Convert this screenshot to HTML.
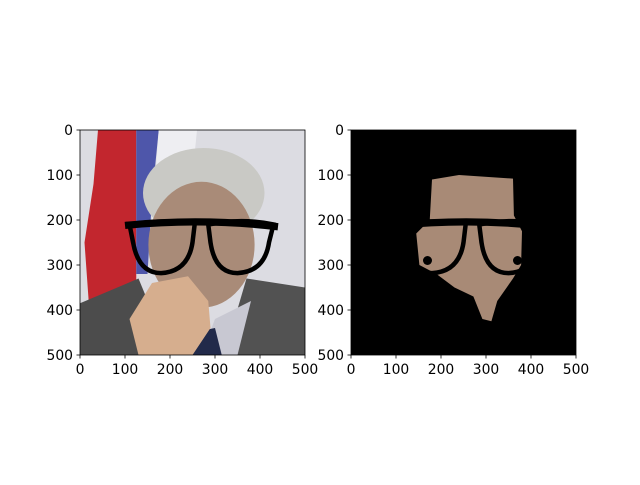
<!DOCTYPE html>
<html><head><meta charset="utf-8"><style>
body{margin:0;background:#fff}
svg text{font-family:"DejaVu Sans","Liberation Sans",sans-serif;font-size:13.9px;fill:#000}
</style></head><body>
<svg id="fig" width="640" height="480" xmlns="http://www.w3.org/2000/svg">
<rect width="640" height="480" fill="#fff"/>
<defs>
<g id="glasses">
<path d="M100,212 Q270,195 440,215" stroke="#000" stroke-width="16" fill="none"/>
<path d="M110,210 Q190,198 255,208 L250,250 Q240,315 180,318 Q130,318 118,250 Z" stroke="#000" stroke-width="10" fill="none"/>
<path d="M285,210 Q360,195 430,210 L420,250 Q410,315 350,318 Q300,318 290,250 Z" stroke="#000" stroke-width="10" fill="none"/>
</g>
</defs>
<g transform="translate(80,130) scale(0.45)">
<rect width="500" height="500" fill="#dcdce2"/>
<polygon points="40,0 125,0 125,390 20,390 10,250 30,120" fill="#c2262e"/>
<polygon points="125,0 175,0 160,150 150,320 125,320" fill="#4e56aa"/>
<polygon points="175,0 260,0 250,100 160,200" fill="#eeeef2"/>
<ellipse cx="275" cy="140" rx="135" ry="100" fill="#c9c9c5"/>
<ellipse cx="270" cy="255" rx="118" ry="140" fill="#a98b78"/>
<polygon points="0,385 130,330 200,500 0,500" fill="#4c4c4c"/>
<polygon points="370,330 500,350 500,500 320,500" fill="#525252"/>
<polygon points="300,420 380,380 350,500 270,500" fill="#c8c8d2"/>
<polygon points="250,450 300,440 315,500 240,500" fill="#222a4a"/>
<polygon points="130,500 110,420 160,340 240,325 285,380 290,440 250,500" fill="#d6ae8e"/>
<use href="#glasses"/>
</g>
<g transform="translate(351,130) scale(0.45)">
<rect width="500" height="500" fill="#000"/>
<polygon points="180,110 240,100 360,108 362,190 380,225 378,300 360,330 325,380 312,425 292,420 272,370 230,350 190,320 152,300 145,230 175,200" fill="#a88a76"/>
<circle cx="170" cy="290" r="10" fill="#000"/>
<circle cx="370" cy="290" r="10" fill="#000"/>
<use href="#glasses"/>
</g>
<g id="axes"></g>
</svg>
<script>
const ticks=[0,100,200,300,400,500];
const tickLabels=["0","100","200","300","400","500"];
const panels=[{name:'left',x:80},{name:'right',x:351}];
const top0=130,size=225,ns='http://www.w3.org/2000/svg';
const ax=document.getElementById('axes');
function sx(v,x0){return x0+v/500*size}
function sy(v){return top0+v/500*size}
function mk(t,a){const e=document.createElementNS(ns,t);for(const k in a)e.setAttribute(k,a[k]);ax.appendChild(e);return e}
panels.forEach(p=>{
 const f=mk('rect',{x:p.x,y:top0,width:size,height:size,fill:'none',stroke:'#000','stroke-width':0.8});
 
 
 ticks.forEach((t,i)=>{
  const x=sx(t,p.x),y=sy(t);
  mk('line',{x1:x,y1:top0+size,x2:x,y2:top0+size+3.5,stroke:'#000','stroke-width':0.8});
  const tx=mk('text',{x:x,y:top0+size+19,'text-anchor':'middle'});tx.textContent=tickLabels[i];
  
  
  mk('line',{x1:p.x,y1:y,x2:p.x-3.5,y2:y,stroke:'#000','stroke-width':0.8});
  const ty=mk('text',{x:p.x-7,y:y+5,'text-anchor':'end'});ty.textContent=tickLabels[i];
  
  
 });
});
</script>
</body></html>
